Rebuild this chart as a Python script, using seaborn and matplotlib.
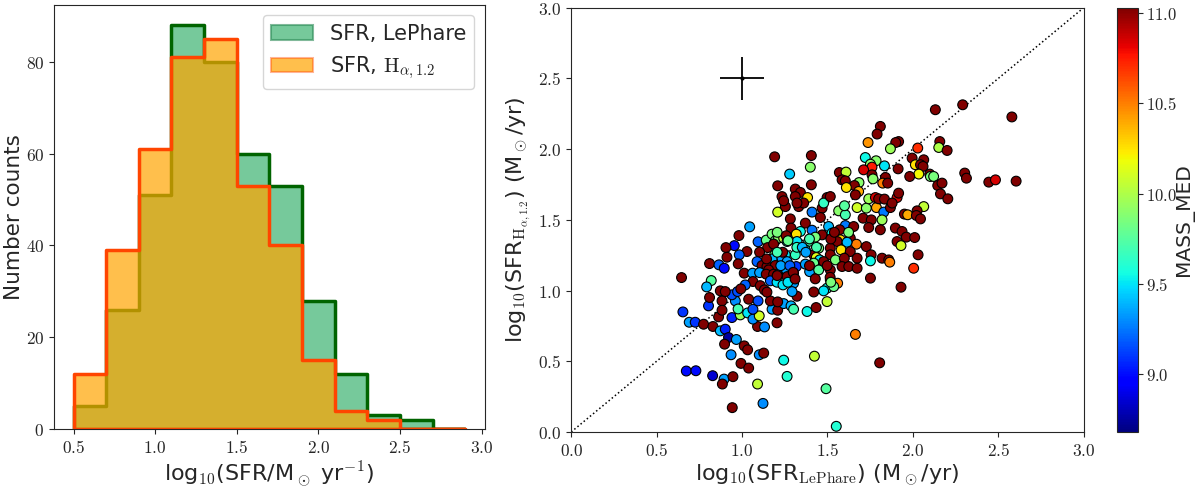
import numpy as np
import pandas as pd
import seaborn as sns
import matplotlib
matplotlib.use("Agg")
import matplotlib.pyplot as plt
from matplotlib.colors import Normalize, to_rgba
from matplotlib.cm import ScalarMappable
from matplotlib.ticker import FuncFormatter
from matplotlib.patches import Patch

# histogram bins and counts (left panel)
bin_edges = [0.5, 0.7, 0.9, 1.1, 1.3, 1.5, 1.7, 1.9, 2.1, 2.3, 2.5, 2.7, 2.9]
counts_lephare = [5, 26, 51, 88, 80, 60, 53, 28, 12, 3, 2, 0]
counts_halpha = [12, 39, 61, 81, 85, 53, 40, 15, 4, 2, 0, 0]

# scatter (right panel): log SFR LePhare, log SFR Halpha, MASS_MED
sfr_lephare = [
    0.654, 0.691, 0.726, 0.775, 0.804, 0.810, 0.883, 0.830, 0.873, 0.902,
    0.921, 0.898, 0.967, 1.013, 1.033, 0.936, 0.994, 1.039, 1.101, 1.127,
    1.091, 1.132, 1.205, 1.244, 1.264, 1.424, 1.492, 1.091, 1.123, 0.943,
    0.674, 0.730, 0.828, 0.895, 0.885, 0.947, 1.381, 1.434, 1.498, 0.941,
    0.990, 1.033, 1.064, 1.101, 1.064, 1.039, 1.094, 0.961, 0.977, 0.863,
    0.883, 1.176, 1.209, 1.244, 1.287, 1.302, 1.166, 1.209, 1.322, 0.941,
    1.209, 1.045, 0.982, 1.094, 1.142, 1.176, 1.195, 1.214, 1.150, 0.955,
    0.906, 1.029, 0.984, 0.912, 1.103, 1.191, 1.177, 0.810, 0.865, 0.896,
    0.978, 1.088, 1.117, 1.146, 1.195, 1.156, 1.013, 1.062, 1.103, 1.142,
    1.185, 1.209, 0.646, 0.820, 0.793, 1.064, 1.019, 1.107, 1.166, 1.205,
    1.131, 0.974, 0.873, 0.902, 1.146,
    1.254, 1.332, 1.410, 1.469, 1.566, 1.605, 1.674, 1.728, 1.787, 1.830,
    1.869, 1.820, 1.709, 1.757, 1.283, 1.371, 1.459, 1.287, 1.342, 1.410,
    1.507, 1.605, 1.572, 1.654, 1.742, 1.810, 1.898, 1.318, 1.469, 1.527,
    1.576, 1.557, 1.634, 1.670, 1.728, 1.615, 1.244, 1.264, 1.322, 1.429,
    1.390, 1.449, 1.371, 1.517, 1.580, 1.634, 1.908, 1.254, 1.312, 1.420,
    1.435, 1.455, 1.517, 1.547, 1.599, 1.674, 1.756, 1.752, 1.820, 1.859,
    1.865, 1.234, 1.264, 1.318, 1.371, 1.420, 1.478, 1.586, 1.625, 1.674,
    1.260, 1.302, 1.396, 1.449, 1.517, 1.429, 1.517, 1.560, 1.752, 1.264,
    1.302, 1.498, 1.537, 1.478, 1.240, 1.293, 1.420,
    1.191, 1.406, 1.400, 1.279, 1.209, 1.406, 1.312, 1.342, 1.312, 1.234,
    1.244, 1.384, 1.498, 1.478, 1.361, 1.322,
    2.132, 2.292, 1.810, 1.791, 1.738, 1.917, 1.900, 1.869, 2.029, 2.158,
    2.152, 2.201, 1.722, 1.785, 1.752, 1.996, 2.064, 2.015, 2.045, 2.060,
    1.761, 1.712, 1.834, 1.914, 1.570, 1.609, 1.761, 1.586, 1.605, 2.035,
    1.982, 2.099, 2.103, 2.122, 1.840, 1.767, 1.685, 1.658, 1.611, 1.824,
    1.853, 2.146, 2.171, 2.304, 2.314, 2.445, 2.484, 1.683, 1.664, 2.162,
    2.205, 1.742, 1.781, 1.800, 1.834, 1.908, 1.917, 1.879, 1.517,
    2.064, 1.951, 1.970, 2.025, 2.021, 2.045, 1.937, 1.962, 2.011, 1.931,
    2.031, 2.005, 1.931,
    1.664, 1.806, 1.552, 2.580, 2.605, 1.600,
    0.993, 1.144, 1.206, 1.227, 1.238, 1.185, 1.206, 1.259, 1.269, 1.321,
    1.353, 1.374, 1.395, 1.436, 1.520, 1.541, 1.624, 1.206, 1.280, 1.300,
    1.269, 1.311, 1.395, 1.499, 1.516, 1.520,
]
sfr_halpha = [
    0.849, 0.776, 0.776, 0.762, 0.892, 0.951, 0.927, 0.746, 0.715, 0.727,
    0.668, 0.621, 0.654, 0.609, 0.581, 0.546, 0.485, 0.452, 0.546, 0.558,
    0.746, 0.743, 0.772, 0.508, 0.393, 0.536, 0.306, 0.339, 0.202, 0.172,
    0.431, 0.433, 0.398, 0.374, 0.339, 0.391, 0.852, 0.880, 0.922, 0.809,
    0.828, 0.842, 0.798, 0.821, 0.868, 0.939, 0.927, 0.927, 0.870, 0.814,
    0.861, 0.868, 0.861, 0.908, 0.892, 0.868, 0.927, 0.920, 0.960, 0.970,
    1.555, 1.451, 1.389, 1.345, 1.357, 1.399, 1.352, 1.371, 1.304, 1.318,
    1.304, 1.276, 1.253, 1.236, 1.272, 1.253, 1.224, 1.191, 1.182, 1.158,
    1.189, 1.205, 1.177, 1.170, 1.177, 1.146, 1.123, 1.123, 1.127, 1.116,
    1.116, 1.111, 1.092, 1.071, 1.026, 1.064, 1.040, 1.035, 1.069, 1.059,
    1.005, 0.993, 0.998, 0.993, 0.989,
    1.594, 1.594, 1.555, 1.583, 1.564, 1.536, 1.587, 1.583, 1.587, 1.555,
    1.587, 1.500, 1.512, 1.500, 1.507, 1.477, 1.517, 1.442, 1.418, 1.427,
    1.453, 1.460, 1.430, 1.453, 1.446, 1.430, 1.442, 1.399, 1.394, 1.406,
    1.359, 1.347, 1.371, 1.328, 1.311, 1.342, 1.371, 1.347, 1.347, 1.378,
    1.347, 1.300, 1.288, 1.300, 1.288, 1.276, 1.347, 1.253, 1.253, 1.253,
    1.234, 1.217, 1.253, 1.217, 1.229, 1.229, 1.253, 1.210, 1.229, 1.217,
    1.201, 1.229, 1.205, 1.170, 1.187, 1.194, 1.205, 1.170, 1.170, 1.158,
    1.146, 1.123, 1.134, 1.146, 1.146, 1.083, 1.076, 1.052, 1.088, 1.099,
    1.052, 1.017, 1.028, 0.998, 1.040, 0.993, 0.990,
    1.946, 1.955, 1.873, 1.824, 1.741, 1.748, 1.718, 1.694, 1.665, 1.665,
    1.635, 1.658, 1.658, 1.619, 1.619, 1.619,
    2.279, 2.314, 2.161, 2.107, 2.047, 2.054, 2.047, 2.003, 2.008, 2.054,
    2.012, 1.991, 1.941, 1.918, 1.894, 1.937, 1.925, 1.890, 1.890, 1.878,
    1.873, 1.854, 1.882, 1.861, 1.835, 1.838, 1.819, 1.783, 1.776, 1.824,
    1.807, 1.824, 1.807, 1.807, 1.800, 1.790, 1.764, 1.743, 1.729, 1.760,
    1.760, 1.743, 1.760, 1.831, 1.795, 1.767, 1.783, 1.701, 1.677, 1.684,
    1.649, 1.649, 1.658, 1.649, 1.647, 1.658, 1.689, 1.619, 1.665,
    1.594, 1.541, 1.536, 1.564, 1.531, 1.507, 1.418, 1.378, 1.375, 1.318,
    1.253, 1.158, 1.024,
    0.690, 0.489, 0.040, 2.228, 1.774, 1.600,
    1.012, 1.224, 1.106, 1.176, 1.271, 1.329, 1.412, 1.388, 1.353, 1.306,
    1.306, 1.271, 1.365, 1.306, 1.365, 1.412, 1.412, 1.271, 1.176, 1.129,
    1.059, 1.082, 1.176, 1.176, 1.094, 1.059,
]
mass_med = [
    9.10, 9.35, 9.10, 11.05, 9.10, 11.05, 11.05, 11.05, 9.40, 9.05,
    8.75, 11.05, 9.35, 11.05, 11.05, 9.30, 11.05, 11.05, 9.30, 11.05,
    11.05, 9.30, 11.05, 9.55, 9.60, 10.05, 9.75, 10.05, 9.30, 11.05,
    9.00, 9.00, 8.85, 9.35, 11.05, 11.05, 9.55, 11.05, 10.05, 9.05,
    9.95, 9.50, 9.30, 10.10, 9.15, 11.05, 9.15, 9.30, 9.70, 11.05,
    11.05, 9.35, 11.05, 9.35, 9.40, 9.70, 11.05, 11.05, 11.05, 9.15,
    10.10, 9.35, 11.05, 9.20, 9.80, 9.85, 9.80, 9.90, 11.05, 9.00,
    11.05, 11.05, 9.20, 11.05, 11.05, 9.85, 9.40, 11.05, 9.20, 9.00,
    11.05, 9.20, 11.05, 11.05, 11.05, 11.05, 11.05, 9.35, 9.35, 11.05,
    11.05, 9.50, 11.05, 9.75, 9.40, 11.05, 9.20, 11.05, 9.20, 9.50,
    11.05, 9.15, 11.05, 11.05, 11.05,
    11.05, 11.05, 9.25, 11.05, 9.90, 9.70, 10.10, 9.90, 10.40, 9.25,
    11.05, 9.95, 11.05, 11.05, 11.05, 11.05, 11.05, 11.05, 9.55, 9.25,
    9.40, 9.25, 11.05, 11.05, 11.05, 11.05, 11.05, 10.25, 11.05, 9.55,
    10.30, 11.05, 11.05, 10.50, 11.05, 9.40, 10.05, 9.50, 9.50, 9.85,
    9.70, 9.85, 9.55, 11.05, 10.25, 11.05, 11.05, 9.50, 9.65, 11.05,
    10.15, 9.50, 11.05, 9.85, 11.05, 11.05, 11.05, 9.55, 11.05, 11.05,
    10.50, 9.35, 9.35, 9.10, 9.35, 9.80, 11.05, 11.05, 11.05, 11.05,
    9.35, 11.05, 9.35, 9.75, 11.05, 11.05, 11.05, 10.50, 11.05, 11.05,
    9.35, 9.55, 9.80, 9.50, 9.50, 9.35, 11.05,
    11.05, 11.05, 9.90, 9.45, 11.05, 11.05, 11.05, 11.05, 11.05, 11.05,
    11.05, 10.25, 11.05, 9.65, 11.05, 11.05,
    11.05, 11.05, 11.05, 11.05, 10.45, 11.05, 11.05, 9.95, 10.70, 11.05,
    10.00, 11.05, 9.55, 9.90, 9.90, 11.05, 11.05, 10.25, 11.05, 11.05,
    10.75, 10.85, 9.50, 11.05, 11.05, 10.05, 11.05, 11.05, 11.05, 10.20,
    11.05, 11.05, 9.85, 9.85, 11.05, 9.90, 9.90, 11.05, 10.25, 10.50,
    11.05, 11.05, 11.05, 11.05, 11.05, 11.05, 10.85, 10.40, 11.05, 11.05,
    11.05, 9.95, 10.85, 11.05, 11.05, 10.85, 11.05, 11.05, 11.05,
    10.05, 11.05, 10.40, 11.05, 11.05, 11.05, 11.05, 11.05, 11.05, 10.10,
    11.05, 10.70, 11.05,
    10.50, 11.05, 9.60, 11.05, 11.05, 9.75,
    11.05, 11.05, 11.05, 9.35, 11.05, 11.05, 9.85, 11.05, 9.80, 9.65,
    9.40, 9.35, 9.70, 9.70, 11.05, 11.05, 9.85, 9.70, 9.20, 11.05,
    9.50, 11.05, 11.05, 11.05, 11.05, 9.85,
]

# typical error bar shown in the corner
err_x, err_y = 1.0, 2.5
err_dx, err_dy = 0.13, 0.155

mass_min, mass_max = 8.68, 11.03

sns.set_style("ticks")
plt.rcParams['font.family'] = ['DejaVu Sans']
plt.rcParams['mathtext.fontset'] = 'cm'
plt.rcParams['xtick.labelsize'] = 12.5
plt.rcParams['ytick.labelsize'] = 12.5

fig = plt.figure(figsize=(12, 4.87), dpi=100)
ax1 = fig.add_axes([0.045, 0.119, 0.359, 0.871])
ax2 = fig.add_axes([0.476, 0.113, 0.427, 0.871])
cax = fig.add_axes([0.931, 0.113, 0.0175, 0.871])

# ---- histograms
edges = np.array(bin_edges)
hist_df = pd.DataFrame({
    'center': (edges[:-1] + edges[1:]) / 2,
    'lephare': counts_lephare,
    'halpha': counts_halpha,
})
green_face = to_rgba('mediumseagreen', 0.7)
orange_face = to_rgba('orange', 0.7)

sns.histplot(data=hist_df, x='center', weights='lephare', bins=bin_edges, element='step',
             fill=True, color='mediumseagreen', alpha=0.7, edgecolor='darkgreen',
             linewidth=2.5, ax=ax1)
sns.histplot(data=hist_df, x='center', weights='halpha', bins=bin_edges, element='step',
             fill=True, color='orange', alpha=0.7, edgecolor='orangered',
             linewidth=2.5, ax=ax1)

ax1.set_xlim(0.38, 3.02)
ax1.set_ylim(0, 92.4)
ax1.set_xticks([0.5, 1.0, 1.5, 2.0, 2.5, 3.0])
ax1.set_yticks([0, 20, 40, 60, 80])
ax1.xaxis.set_major_formatter(FuncFormatter(lambda v, p: f'${v:.1f}$'))
ax1.yaxis.set_major_formatter(FuncFormatter(lambda v, p: f'${v:.0f}$'))
ax1.set_xlabel(r'log$_{10}$(SFR/M$_\odot$ yr$^{-1}$)', fontsize=16, labelpad=2)
ax1.set_ylabel('Number counts', fontsize=15.5, labelpad=1)

handles = [Patch(facecolor=green_face, edgecolor=to_rgba('seagreen', 0.6), linewidth=1.5),
           Patch(facecolor=orange_face, edgecolor=to_rgba('orangered', 0.4), linewidth=1.5)]
ax1.legend(handles, ['SFR, LePhare', r'SFR, $\mathrm{H}_{\alpha,1.2}$'],
           loc='upper right', fontsize=15)

# ---- scatter
jet = plt.get_cmap('jet')
norm = Normalize(mass_min, mass_max)
ax2.axline((0, 0), slope=1, color='black', ls=':', lw=1.1, zorder=1)
sns.scatterplot(x=sfr_lephare, y=sfr_halpha, hue=mass_med, palette=jet, hue_norm=norm,
                s=50, edgecolor='black', linewidth=0.8, legend=False, ax=ax2, zorder=2)
ax2.errorbar(err_x, err_y, xerr=err_dx, yerr=err_dy, fmt='o', ms=2, color='black',
             lw=1.3, zorder=3)

ax2.set_xlim(0, 3)
ax2.set_ylim(0, 3)
ticks = [0.0, 0.5, 1.0, 1.5, 2.0, 2.5, 3.0]
ax2.set_xticks(ticks)
ax2.set_yticks(ticks)
ax2.xaxis.set_major_formatter(FuncFormatter(lambda v, p: f'${v:.1f}$'))
ax2.yaxis.set_major_formatter(FuncFormatter(lambda v, p: f'${v:.1f}$'))
ax2.set_xlabel(r'log$_{10}$(SFR$_{\mathrm{LePhare}}$) (M$_\odot$/yr)', fontsize=16, labelpad=2)
ax2.set_ylabel(r'log$_{10}$(SFR$_{\mathrm{H}_{\alpha,1.2}}$) (M$_\odot$/yr)', fontsize=16, labelpad=4)

sm = ScalarMappable(norm=norm, cmap=jet)
cbar = fig.colorbar(sm, cax=cax)
cbar.set_ticks([9.0, 9.5, 10.0, 10.5, 11.0])
cbar.ax.tick_params(labelsize=12, pad=2)
cbar.ax.yaxis.set_major_formatter(FuncFormatter(lambda v, p: f'${v:.1f}$'))
cbar.set_label('MASS_MED', fontsize=14.5, labelpad=-1)
cbar.outline.set_linewidth(0.8)

fig.savefig('out.png', dpi=100)
